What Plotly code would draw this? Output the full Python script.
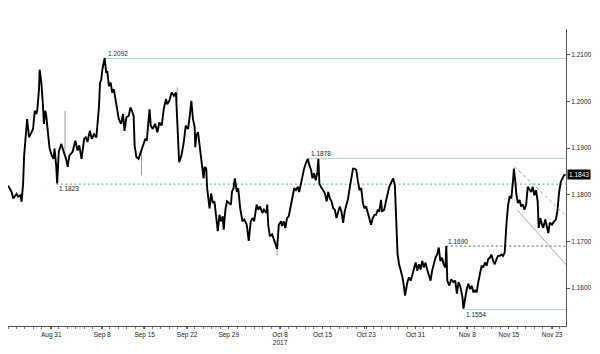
import plotly.graph_objects as go

# trading-day index (0 = Aug 24 2017) and EUR/USD price
trace_points = [
    (0, 1.1820), (0.43, 1.1806), (0.62, 1.1792), (1.01, 1.1802), (1.20, 1.1796), (1.48, 1.1799),
    (1.60, 1.1785), (1.78, 1.1824), (1.90, 1.1884), (2.18, 1.1941), (2.25, 1.1962), (2.48, 1.1923),
    (2.76, 1.1934), (2.95, 1.1941), (3.15, 1.1980), (3.34, 1.1973), (3.46, 1.1983), (3.65, 1.2026),
    (3.73, 1.2068), (3.93, 1.2040), (4.11, 1.1994), (4.23, 1.1952), (4.39, 1.1980), (4.51, 1.1969),
    (4.70, 1.1934), (4.90, 1.1899), (5.16, 1.1884), (5.36, 1.1877), (5.48, 1.1899), (5.68, 1.1862),
    (5.79, 1.1824), (5.98, 1.1892), (6.26, 1.1909), (6.45, 1.1899), (6.84, 1.1877), (7.03, 1.1860),
    (7.23, 1.1884), (7.61, 1.1892), (7.93, 1.1916), (8.19, 1.1895), (8.39, 1.1906), (8.66, 1.1877),
    (8.97, 1.1920), (9.17, 1.1923), (9.36, 1.1913), (9.64, 1.1937), (9.87, 1.1920), (10.14, 1.1930),
    (10.41, 1.1923), (10.72, 1.1990), (10.84, 1.2040), (10.99, 1.2047), (11.11, 1.2068), (11.39, 1.2093),
    (11.57, 1.2061), (11.69, 1.2065), (11.89, 1.2033), (12.09, 1.2040), (12.27, 1.2019), (12.47, 1.2026),
    (12.67, 1.2005), (12.86, 1.1990), (13.05, 1.1962), (13.32, 1.1952), (13.55, 1.1973), (13.72, 1.1937),
    (13.95, 1.1966), (14.22, 1.1969), (14.42, 1.1987), (14.60, 1.1980), (14.80, 1.1969), (14.92, 1.1905),
    (15.12, 1.1881), (15.38, 1.1877), (15.65, 1.1892), (15.89, 1.1902), (16.17, 1.1920), (16.35, 1.1916),
    (16.67, 1.1983), (16.82, 1.1948), (17.05, 1.1941), (17.33, 1.1952), (17.60, 1.1934), (17.83, 1.1955),
    (18.10, 1.1948), (18.38, 1.1987), (18.61, 1.2005), (18.76, 1.1994), (19.00, 1.2001), (19.27, 1.2019),
    (19.55, 1.2012), (19.78, 1.2019), (20.05, 1.1899), (20.16, 1.1870), (20.43, 1.1884), (20.71, 1.1913),
    (20.94, 1.1948), (21.21, 1.1941), (21.41, 1.1969), (21.60, 1.2001), (21.79, 1.1962), (21.99, 1.1945),
    (22.06, 1.1902), (22.18, 1.1927), (22.38, 1.1934), (22.58, 1.1905), (22.76, 1.1870), (22.88, 1.1849),
    (23.04, 1.1835), (23.16, 1.1860), (23.35, 1.1856), (23.46, 1.1814), (23.62, 1.1792), (23.74, 1.1771),
    (23.93, 1.1803), (24.13, 1.1782), (24.32, 1.1786), (24.51, 1.1750), (24.71, 1.1722), (24.91, 1.1757),
    (25.09, 1.1743), (25.29, 1.1754), (25.41, 1.1725), (25.61, 1.1768), (25.79, 1.1786), (26.07, 1.1782),
    (26.26, 1.1779), (26.38, 1.1806), (26.57, 1.1814), (26.72, 1.1835), (26.96, 1.1806), (27.12, 1.1814),
    (27.35, 1.1771), (27.62, 1.1743), (27.82, 1.1747), (28.12, 1.1736), (28.36, 1.1701), (28.59, 1.1743),
    (28.82, 1.1750), (28.99, 1.1743), (29.29, 1.1779), (29.49, 1.1768), (29.69, 1.1775), (29.95, 1.1761),
    (30.15, 1.1768), (30.42, 1.1761), (30.54, 1.1779), (30.65, 1.1736), (30.85, 1.1711), (31.12, 1.1715),
    (31.39, 1.1701), (31.55, 1.1690), (31.70, 1.1684), (31.90, 1.1736), (32.17, 1.1743), (32.28, 1.1733),
    (32.48, 1.1743), (32.67, 1.1729), (32.87, 1.1750), (33.07, 1.1754), (33.25, 1.1771), (33.37, 1.1782),
    (33.53, 1.1795), (33.72, 1.1814), (33.92, 1.1810), (34.15, 1.1817), (34.30, 1.1806), (34.53, 1.1828),
    (34.70, 1.1842), (34.88, 1.1856), (35.08, 1.1867), (35.31, 1.1877), (35.51, 1.1863), (35.70, 1.1853),
    (35.86, 1.1835), (36.05, 1.1846), (36.25, 1.1831), (36.45, 1.1849), (36.56, 1.1877), (36.68, 1.1824),
    (36.86, 1.1817), (37.14, 1.1810), (37.33, 1.1803), (37.53, 1.1786), (37.73, 1.1806), (37.91, 1.1792),
    (38.11, 1.1786), (38.31, 1.1771), (38.50, 1.1768), (38.69, 1.1750), (38.89, 1.1761), (39.08, 1.1775),
    (39.28, 1.1764), (39.48, 1.1740), (39.66, 1.1764), (39.86, 1.1779), (40.06, 1.1792), (40.24, 1.1814),
    (40.44, 1.1835), (40.64, 1.1856), (40.83, 1.1856), (41.03, 1.1853), (41.22, 1.1828), (41.41, 1.1810),
    (41.61, 1.1814), (41.81, 1.1782), (41.99, 1.1771), (42.19, 1.1775), (42.39, 1.1761), (42.58, 1.1747),
    (42.77, 1.1736), (42.97, 1.1750), (43.16, 1.1757), (43.36, 1.1757), (43.55, 1.1768), (43.74, 1.1764),
    (43.94, 1.1789), (44.06, 1.1764), (44.32, 1.1768), (44.52, 1.1786), (44.72, 1.1806), (44.91, 1.1817),
    (45.19, 1.1828), (45.37, 1.1835), (45.57, 1.1820), (45.69, 1.1771), (45.77, 1.1715), (45.89, 1.1672),
    (46.07, 1.1651), (46.27, 1.1637), (46.47, 1.1623), (46.65, 1.1602), (46.77, 1.1584), (47.05, 1.1613),
    (47.24, 1.1623), (47.44, 1.1616), (47.63, 1.1630), (47.82, 1.1644), (48.02, 1.1655), (48.22, 1.1637),
    (48.41, 1.1651), (48.60, 1.1640), (48.80, 1.1658), (48.99, 1.1644), (49.18, 1.1655), (49.38, 1.1640),
    (49.57, 1.1627), (49.77, 1.1616), (49.96, 1.1637), (50.15, 1.1651), (50.35, 1.1665), (50.55, 1.1672),
    (50.74, 1.1687), (50.93, 1.1658), (51.13, 1.1665), (51.32, 1.1651), (51.52, 1.1644), (51.63, 1.1690),
    (51.75, 1.1616), (51.98, 1.1605), (52.21, 1.1619), (52.48, 1.1613), (52.68, 1.1616), (52.88, 1.1588),
    (53.07, 1.1613), (53.26, 1.1605), (53.53, 1.1581), (53.65, 1.1556), (53.85, 1.1581), (54.04, 1.1598),
    (54.23, 1.1609), (54.43, 1.1598), (54.63, 1.1605), (54.82, 1.1591), (55.01, 1.1595), (55.21, 1.1591),
    (55.40, 1.1613), (55.59, 1.1630), (55.79, 1.1648), (55.98, 1.1644), (56.18, 1.1655), (56.38, 1.1648),
    (56.56, 1.1662), (56.76, 1.1665), (56.96, 1.1672), (57.15, 1.1658), (57.34, 1.1651), (57.54, 1.1662),
    (57.73, 1.1669), (57.93, 1.1669), (58.12, 1.1672), (58.31, 1.1669), (58.51, 1.1676), (58.71, 1.1736),
    (58.89, 1.1775), (59.09, 1.1797), (59.29, 1.1792), (59.48, 1.1828), (59.59, 1.1856), (59.76, 1.1828),
    (59.87, 1.1803), (60.06, 1.1782), (60.26, 1.1789), (60.45, 1.1775), (60.64, 1.1779), (60.84, 1.1768),
    (61.04, 1.1779), (61.22, 1.1817), (61.42, 1.1810), (61.62, 1.1806), (61.81, 1.1817), (62.00, 1.1799),
    (62.20, 1.1810), (62.39, 1.1786), (62.51, 1.1729), (62.70, 1.1750), (62.90, 1.1736), (63.05, 1.1729),
    (63.29, 1.1747), (63.44, 1.1736), (63.64, 1.1718), (63.83, 1.1740), (64.07, 1.1736), (64.34, 1.1743),
    (64.53, 1.1747), (64.72, 1.1765), (64.92, 1.1806), (65.12, 1.1828), (65.31, 1.1835), (65.50, 1.1842),
    (65.68, 1.1843),
]
time_idx = [p[0] for p in trace_points]
price = [p[1] for p in trace_points]

# thin wicks (index, low, high)
wick_idx = [6.72, 15.73, 19.93, 31.70]
wick_low = [1.1895, 1.1842, 1.2000, 1.1670]
wick_high = [1.1980, 1.1895, 1.2030, 1.1700]

# key levels: value, start index, style
level_values = [1.2092, 1.1878, 1.1823, 1.1690, 1.1554]
level_start = [11.54, 35.43, 5.71, 51.63, 53.61]
level_colors = ["#a6dccd", "#a6dccd", "#72c2ac", "#4e9e82", "#a6dccd"]
level_dashed = [False, False, True, True, False]
level_label_above = [True, True, False, True, False]

# trend lines (x0, y0, x1, y1)
trend_dotted = [59.67, 1.1860, 65.62, 1.1757]
trend_solid = [60.02, 1.1767, 65.73, 1.1650]

last_price = 1.1843

tick_vals = [5.1, 11.1, 16.1, 21.1, 26.0, 32.05, 37.05, 42.2, 48.0, 54.1, 59.0, 64.1]
tick_text = ["Aug 31", "Sep 8", "Sep 15", "Sep 22", "Sep 29", "Oct 8<br>2017", "Oct 15",
             "Oct 23", "Oct 31", "Nov 8", "Nov 15", "Nov 23"]
y_ticks = [1.16, 1.17, 1.18, 1.19, 1.20, 1.21]

X_MAX = 65.73
Y_RANGE = [1.15188, 1.21552]
FONT = "Liberation Sans, Arial, sans-serif"

fig = go.Figure()

wx, wy = [], []
for i, lo, hi in zip(wick_idx, wick_low, wick_high):
    wx += [i, i, None]
    wy += [lo, hi, None]
fig.add_trace(go.Scatter(x=wx, y=wy, mode="lines", line=dict(color="#9a9a9a", width=1),
                         hoverinfo="skip", showlegend=False))

fig.add_trace(go.Scatter(x=time_idx, y=price, mode="lines",
                         line=dict(color="#000000", width=1.9), showlegend=False))

shapes = []
annotations = []
for v, s, col, dashed, above in zip(level_values, level_start, level_colors, level_dashed,
                                    level_label_above):
    shapes.append(dict(type="line", xref="x", yref="y", x0=s, x1=X_MAX, y0=v, y1=v,
                       line=dict(color=col, width=1.2 if dashed else 1,
                                 dash="2px,2.5px" if dashed else "solid"), layer="below"))
    annotations.append(dict(x=s, y=v, xref="x", yref="y", text=f"{v:.4f}", showarrow=False,
                            xanchor="left", yanchor="bottom" if above else "top",
                            xshift=0 if above else 1, yshift=-1 if above else 1,
                            font=dict(family=FONT, size=6.5, color="#222222")))

shapes.append(dict(type="line", xref="x", yref="y", x0=trend_dotted[0], y0=trend_dotted[1],
                   x1=trend_dotted[2], y1=trend_dotted[3],
                   line=dict(color="#a0a0a0", width=1, dash="dot")))
shapes.append(dict(type="line", xref="x", yref="y", x0=trend_solid[0], y0=trend_solid[1],
                   x1=trend_solid[2], y1=trend_solid[3],
                   line=dict(color="#a8a8a8", width=1)))

annotations.append(dict(x=1, y=last_price, xref="paper", yref="y", text=f"{last_price:.4f}",
                        showarrow=False, xanchor="left", yanchor="middle", xshift=1,
                        bgcolor="#000000", borderpad=1,
                        font=dict(family=FONT, size=6.5, color="#ffffff")))

fig.update_layout(
    width=600, height=354,
    margin=dict(l=8, r=28, t=29, b=25),
    paper_bgcolor="white", plot_bgcolor="white",
    shapes=shapes, annotations=annotations,
    font=dict(family=FONT, size=6.5, color="#222222"),
    xaxis=dict(range=[0, X_MAX], showgrid=False, zeroline=False,
               showline=True, linecolor="#555555", linewidth=1,
               tickmode="array", tickvals=tick_vals, ticktext=tick_text,
               ticks="outside", ticklen=2, tickcolor="#555555",
               minor=dict(dtick=1, tick0=0, ticks="outside", ticklen=2, tickcolor="#777777"),
               tickfont=dict(family=FONT, size=6.5, color="#222222")),
    yaxis=dict(range=Y_RANGE, side="right", showgrid=False, zeroline=False,
               showline=True, linecolor="#555555", linewidth=1,
               tickmode="array", tickvals=y_ticks, tickformat=".4f",
               ticks="outside", ticklen=3, tickcolor="#555555",
               tickfont=dict(family=FONT, size=6.5, color="#222222")),
)

fig.write_html("out.html")
